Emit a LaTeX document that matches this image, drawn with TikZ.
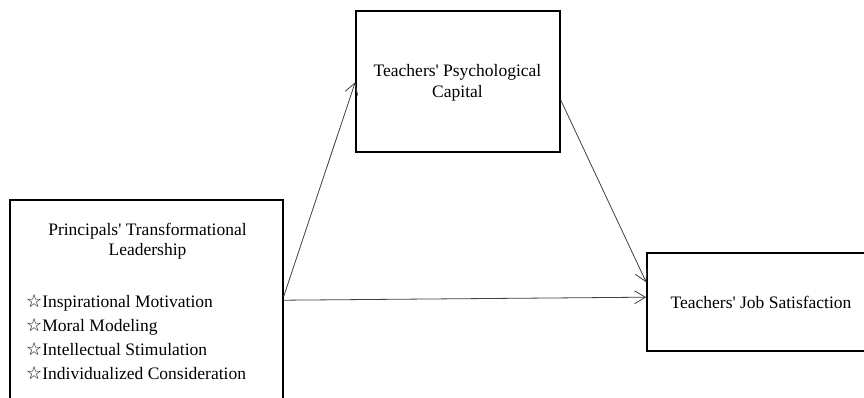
\documentclass[tikz,border=0pt]{standalone}
\usepackage{fontspec}
\setmainfont{Liberation Serif}
\newfontfamily\symfont{DejaVu Sans}
\usetikzlibrary{arrows.meta}
\newcommand{\apo}{\textquotesingle}
\newcommand{\ystar}{{\symfont\fontsize{18}{20}\selectfont ☆}}
\begin{document}
\begin{tikzpicture}[x=1pt,y=-1pt,
  boxstyle/.style={draw=black,line width=1.6pt,inner sep=0pt},
  txt/.style={font=\fontsize{17.5}{20}\selectfont,inner sep=0pt,anchor=base},
  item/.style={font=\fontsize{17.5}{20}\selectfont,inner sep=0pt,anchor=base west},
  conn/.style={draw=black!75,line width=0.8pt,-{Straight Barb[length=11pt,width=13pt,line width=0.8pt]}}]
\useasboundingbox (0,0) rectangle (864,398);
\clip (0,0) rectangle (864,398);
% boxes
\node[boxstyle,minimum width=273pt,minimum height=212pt] (L) at (146.5,306) {};
\node[boxstyle,minimum width=204pt,minimum height=141pt] (T) at (458,81.5) {};
\node[boxstyle,minimum width=233pt,minimum height=98pt] (J) at (763.5,302) {};
% texts
\node[txt] (l1) at (147.5,235) {Principals\apo{} Transformational};
\node[txt] (l2) at (147.5,255) {Leadership};
\node[item] (i1) at (26,307) {\ystar Inspirational Motivation};
\node[item] (i2) at (26,331) {\ystar Moral Modeling};
\node[item] (i3) at (26,355) {\ystar Intellectual Stimulation};
\node[item] (i4) at (26,379) {\ystar Individualized Consideration};
\node[txt] (t1) at (457.5,77) {Teachers\apo{} Psychological};
\node[txt] (t2) at (457.5,98) {Capital};
\node[txt] (j1) at (761,308) {Teachers\apo{} Job Satisfaction};
% connectors
\draw[conn] ([yshift=-97pt]L.north east) -- ([yshift=-72pt]T.north west);
\draw[conn] ([yshift=-90pt]T.north east) -- ([yshift=-30pt]J.north west);
\draw[conn] ([yshift=-101pt]L.north east) -- ([yshift=-45pt]J.north west);
\end{tikzpicture}
\end{document}
